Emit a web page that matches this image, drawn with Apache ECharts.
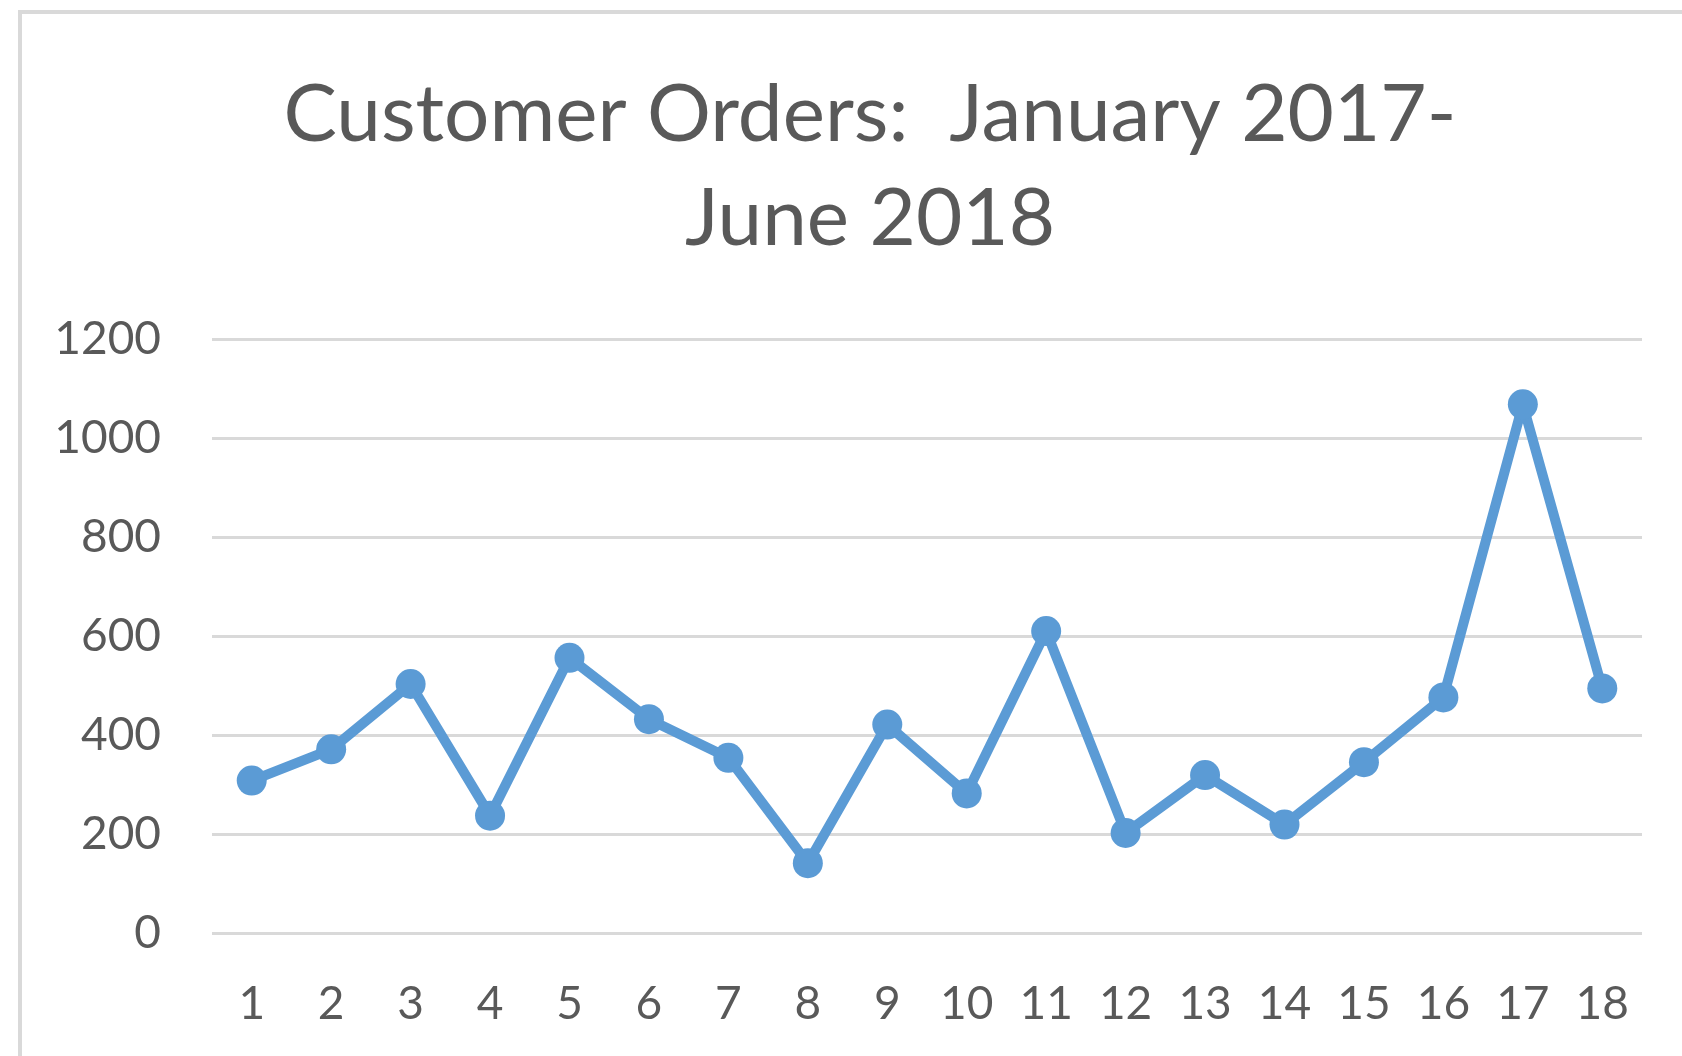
<!DOCTYPE html>
<html>
<head>
<meta charset="utf-8">
<script src="https://cdn.jsdelivr.net/npm/echarts@6/dist/echarts.min.js"></script>
<style>
  html, body { margin: 0; padding: 0; background: #fff; }
  #chart { width: 1682px; height: 1056px; }
</style>
</head>
<body>
<div id="chart"></div>
<script>
// months 1..18 (Jan 2017 - Jun 2018)
const months = ["1", "2", "3", "4", "5", "6", "7", "8", "9", "10", "11", "12", "13", "14", "15", "16", "17", "18"];
const orders = [308, 371, 503, 237, 556, 432, 354, 141, 421, 282, 610, 202, 319, 219, 345, 476, 1068, 494];
const yTicks = [0, 200, 400, 600, 800, 1000, 1200];

const chart = echarts.init(document.getElementById("chart"));

const option = {
  backgroundColor: "#fff",
  animation: false,
  // outer frame of the excel chart (only top/left edges visible)
  graphic: [
    {
      type: "rect",
      shape: { x: 20, y: 12, width: 1720, height: 1100 },
      style: { fill: "none", stroke: "#d9d9d9", lineWidth: 4 },
      silent: true
    }
  ],
  title: {
    text: "Customer Orders:  January 2017-\nJune 2018",
    left: 865,
    top: 58,
    textAlign: "center",
    textStyle: {
      fontFamily: "Lato",
      fontWeight: "normal",
      fontSize: 80,
      lineHeight: 104,
      color: "#595959"
    }
  },
  grid: {
    left: 212,
    right: 40,
    top: 339,
    height: 594
  },
  xAxis: {
    type: "category",
    data: months,
    boundaryGap: true,
    axisLine: { show: false },
    axisTick: { show: false },
    axisLabel: {
      margin: 48,
      fontFamily: "Lato",
      fontSize: 46,
      color: "#595959"
    }
  },
  yAxis: {
    type: "value",
    min: yTicks[0],
    max: yTicks[yTicks.length - 1],
    interval: 200,
    axisLine: { show: false },
    axisTick: { show: false },
    splitLine: { lineStyle: { color: "#d9d9d9", width: 3 } },
    axisLabel: {
      margin: 51,
      fontFamily: "Lato",
      fontSize: 46,
      color: "#595959",
      formatter: (v) => String(v)
    }
  },
  series: [
    {
      type: "line",
      data: orders,
      symbol: "circle",
      symbolSize: 30,
      lineStyle: { color: "#5b9bd5", width: 10 },
      itemStyle: { color: "#5b9bd5" }
    }
  ]
};

chart.setOption(option);
</script>
</body>
</html>
